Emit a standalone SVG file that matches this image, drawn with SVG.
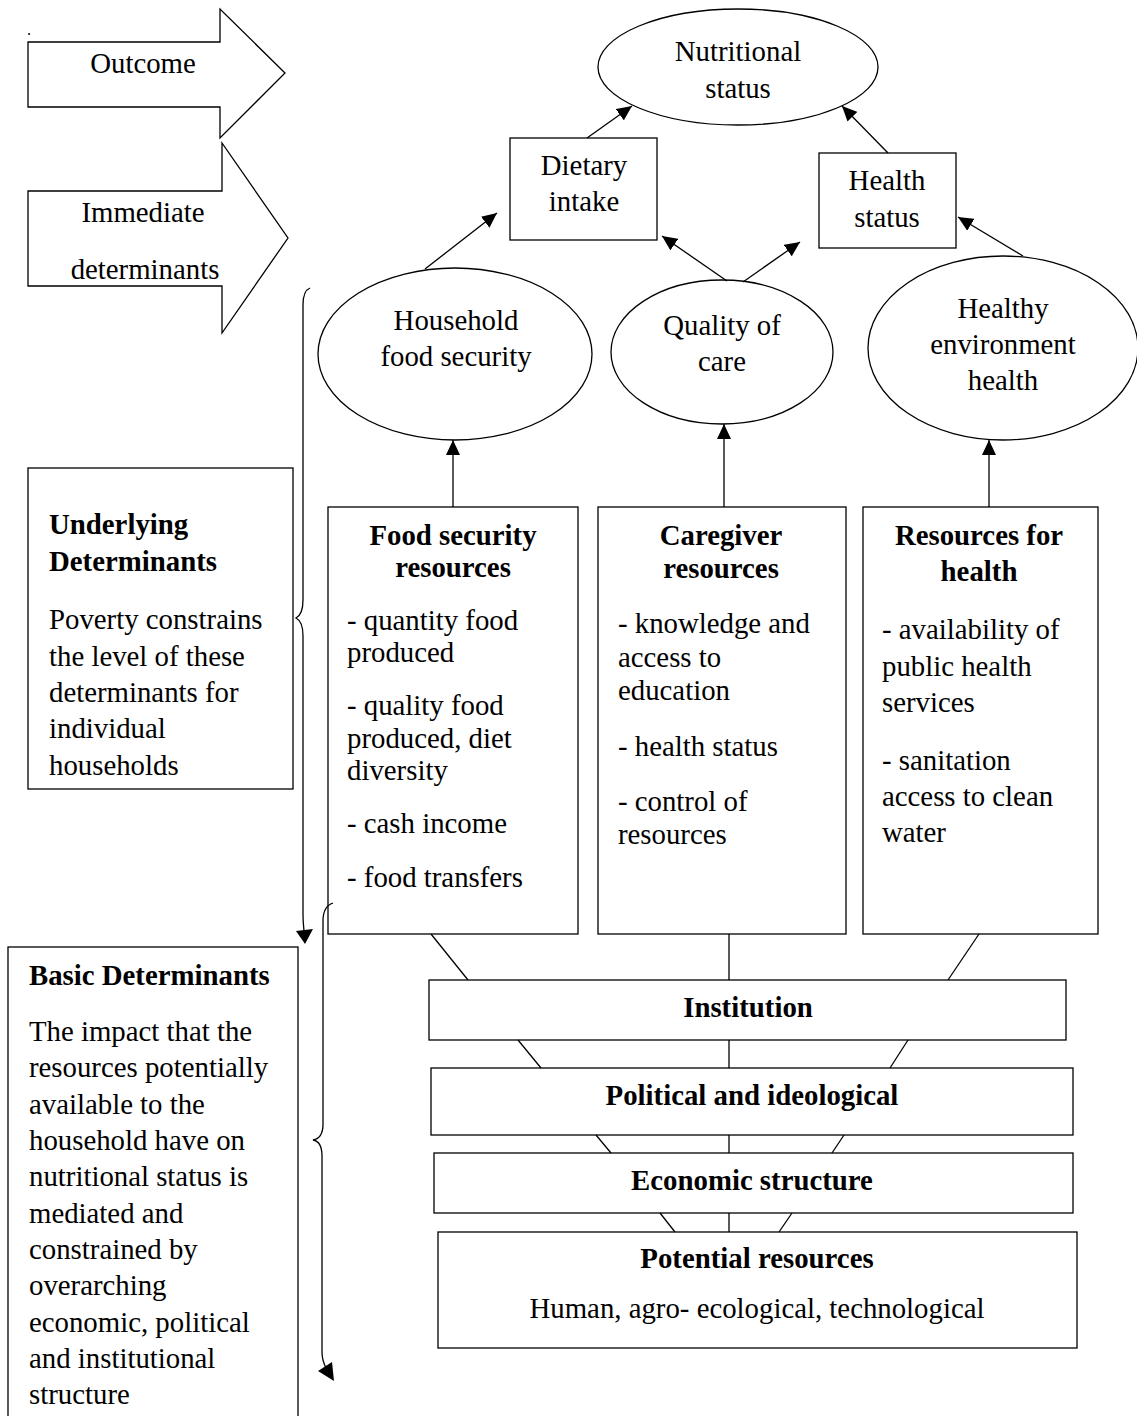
<svg xmlns="http://www.w3.org/2000/svg" width="1137" height="1416" viewBox="0 0 1137 1416">
<style>
text{font-family:"Liberation Serif","Times New Roman",serif;font-size:28.8px;fill:#000}
.b{font-weight:bold}
.c{text-anchor:middle}
.s{fill:#fff;stroke:#000;stroke-width:1.3}
.l{fill:none;stroke:#000;stroke-width:1.3}
.h{fill:#000;stroke:none}
</style>
<defs>
<marker id="ah" markerUnits="userSpaceOnUse" markerWidth="16" markerHeight="14" refX="15" refY="7" orient="auto">
<path d="M0,0 L15,7 L0,14 z" fill="#000"/>
</marker>
</defs>
<rect width="1137" height="1416" fill="#fff"/>
<text x="27" y="35" style="font-size:16px">.</text>
<g id="outcome-arrow">
<polygon class="s" points="28,42 220,42 220,9 285,73 220,138 220,107 28,107"/>
<text class="c" x="143" y="73">Outcome</text>
</g>
<g id="immediate-arrow">
<polygon class="s" points="28,191 222,191 222,143 288,238 222,333 222,286 28,286"/>
<text class="c" x="143" y="222">Immediate</text>
<text class="c" x="145" y="279">determinants</text>
</g>
<g id="nutritional-status">
<ellipse class="s" cx="738" cy="67" rx="140" ry="58"/>
<text class="c" x="738" y="61">Nutritional</text>
<text class="c" x="738" y="98">status</text>
</g>
<g id="dietary-intake">
<rect class="s" x="510" y="138" width="147" height="102"/>
<text class="c" x="584" y="175">Dietary</text>
<text class="c" x="584" y="211">intake</text>
</g>
<g id="health-status">
<rect class="s" x="819" y="153" width="137" height="95"/>
<text class="c" x="887" y="190">Health</text>
<text class="c" x="887" y="227">status</text>
</g>
<g id="household-food-security">
<ellipse class="s" cx="455" cy="354" rx="137" ry="86"/>
<text class="c" x="456" y="330">Household</text>
<text class="c" x="456" y="366">food security</text>
</g>
<g id="quality-of-care">
<ellipse class="s" cx="722" cy="352" rx="111" ry="72"/>
<text class="c" x="722" y="335">Quality of</text>
<text class="c" x="722" y="371">care</text>
</g>
<g id="healthy-environment">
<ellipse class="s" cx="1003" cy="348" rx="135" ry="92"/>
<text class="c" x="1003" y="318">Healthy</text>
<text class="c" x="1003" y="354">environment</text>
<text class="c" x="1003" y="390">health</text>
</g>
<g id="underlying-determinants">
<rect class="s" x="28" y="468" width="265" height="321"/>
<text class="b" x="49" y="534">Underlying</text>
<text class="b" x="49" y="571">Determinants</text>
<text x="49" y="629">Poverty constrains</text>
<text x="49" y="666">the level of these</text>
<text x="49" y="702">determinants for</text>
<text x="49" y="738">individual</text>
<text x="49" y="775">households</text>
</g>
<g id="food-security-resources">
<rect class="s" x="328" y="507" width="250" height="427"/>
<text class="b c" x="453" y="545">Food security</text>
<text class="b c" x="453" y="577">resources</text>
<text x="347" y="630">- quantity food</text>
<text x="347" y="662">produced</text>
<text x="347" y="715">- quality food</text>
<text x="347" y="748">produced, diet</text>
<text x="347" y="780">diversity</text>
<text x="347" y="833">- cash income</text>
<text x="347" y="887">- food transfers</text>
</g>
<g id="caregiver-resources">
<rect class="s" x="598" y="507" width="248" height="427"/>
<text class="b c" x="721" y="545">Caregiver</text>
<text class="b c" x="721" y="578">resources</text>
<text x="618" y="633">- knowledge and</text>
<text x="618" y="667">access to</text>
<text x="618" y="700">education</text>
<text x="618" y="756">- health status</text>
<text x="618" y="811">- control of</text>
<text x="618" y="844">resources</text>
</g>
<g id="resources-for-health">
<rect class="s" x="863" y="507" width="235" height="427"/>
<text class="b c" x="979" y="545">Resources for</text>
<text class="b c" x="979" y="581">health</text>
<text x="882" y="639">- availability of</text>
<text x="882" y="676">public health</text>
<text x="882" y="712">services</text>
<text x="882" y="770">- sanitation</text>
<text x="882" y="806">access to clean</text>
<text x="882" y="842">water</text>
</g>
<g id="institution">
<rect class="s" x="429" y="980" width="637" height="60"/>
<text class="b c" x="748" y="1017">Institution</text>
</g>
<g id="political">
<rect class="s" x="431" y="1068" width="642" height="67"/>
<text class="b c" x="752" y="1105">Political and ideological</text>
</g>
<g id="economic">
<rect class="s" x="434" y="1153" width="639" height="60"/>
<text class="b c" x="752" y="1190">Economic structure</text>
</g>
<g id="potential-resources">
<rect class="s" x="438" y="1232" width="639" height="116"/>
<text class="b c" x="757" y="1268">Potential resources</text>
<text class="c" x="757" y="1318">Human, agro- ecological, technological</text>
</g>
<g id="basic-determinants">
<rect class="s" x="8" y="947" width="290" height="500"/>
<text class="b" x="29" y="985">Basic Determinants</text>
<text x="29" y="1041">The impact that the</text>
<text x="29" y="1077">resources potentially</text>
<text x="29" y="1114">available to the</text>
<text x="29" y="1150">household have on</text>
<text x="29" y="1186">nutritional status is</text>
<text x="29" y="1223">mediated and</text>
<text x="29" y="1259">constrained by</text>
<text x="29" y="1295">overarching</text>
<text x="29" y="1332">economic, political</text>
<text x="29" y="1368">and institutional</text>
<text x="29" y="1404">structure</text>
</g>
<g id="connectors" class="l">
<line class="l" x1="587" y1="138" x2="632" y2="106" marker-end="url(#ah)"/>
<line class="l" x1="888" y1="153" x2="842" y2="106" marker-end="url(#ah)"/>
<line class="l" x1="425" y1="269" x2="497" y2="213" marker-end="url(#ah)"/>
<line class="l" x1="727" y1="281" x2="662" y2="236" marker-end="url(#ah)"/>
<line class="l" x1="743" y1="282" x2="800" y2="242" marker-end="url(#ah)"/>
<line class="l" x1="1023" y1="256" x2="958" y2="217" marker-end="url(#ah)"/>
<line class="l" x1="453" y1="507" x2="453" y2="440" marker-end="url(#ah)"/>
<line class="l" x1="724" y1="507" x2="724" y2="424" marker-end="url(#ah)"/>
<line class="l" x1="989" y1="507" x2="989" y2="440" marker-end="url(#ah)"/>
<line class="l" x1="431" y1="934" x2="468" y2="980"/>
<line class="l" x1="729" y1="934" x2="729" y2="980"/>
<line class="l" x1="979" y1="934" x2="948" y2="980"/>
<line class="l" x1="518" y1="1040" x2="541" y2="1068"/>
<line class="l" x1="729" y1="1040" x2="729" y2="1068"/>
<line class="l" x1="908" y1="1040" x2="890" y2="1068"/>
<line class="l" x1="596" y1="1135" x2="611" y2="1153"/>
<line class="l" x1="729" y1="1135" x2="729" y2="1153"/>
<line class="l" x1="844" y1="1135" x2="832" y2="1153"/>
<line class="l" x1="660" y1="1213" x2="675" y2="1232"/>
<line class="l" x1="729" y1="1213" x2="729" y2="1232"/>
<line class="l" x1="792" y1="1213" x2="779" y2="1232"/>
<path class="l" d="M310,288 C305,290 303,296 303,305 L303,600 C303,611 300,616 296,618 C300,620 303,625 303,636 L303,915 C303,924 304,928 304,932"/>
<polygon class="h" points="296,931 313,929 305,944"/>
<path class="l" d="M333,903 C327,905 323,910 323,921 L323,1124 C323,1134 319,1139 313,1140 C319,1141 322,1146 322,1156 L322,1352 C322,1360 324,1364 326,1368"/>
<polygon class="h" points="318,1371 332,1362 334,1381"/>
</g>
</svg>
